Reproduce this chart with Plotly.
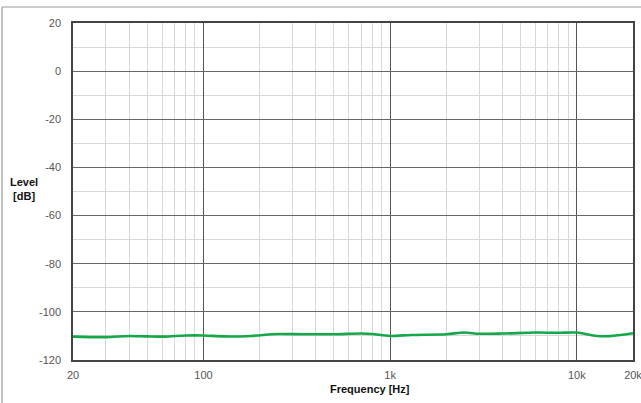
import plotly.graph_objects as go

freq_hz = [20, 30, 40, 50, 62, 80, 100, 130, 180, 250, 350, 500, 700, 800, 1000,
           1300, 2000, 2500, 3000, 4000, 6000, 8000, 10000, 12500, 15000, 20000]
level_db = [-110.3, -110.5, -110.0, -110.2, -110.3, -109.8, -109.8, -110.2, -110.0,
            -109.2, -109.3, -109.3, -109.0, -109.2, -110.0, -109.6, -109.3, -108.6,
            -109.1, -109.0, -108.6, -108.7, -108.6, -109.9, -110.1, -108.9]

x_tick_vals = [20, 100, 1000, 10000, 20000]
x_tick_text = ["20", "100", "1k", "10k", "20k"]
x_minor_vals = [30, 40, 50, 60, 70, 80, 90,
                200, 300, 400, 500, 600, 700, 800, 900,
                2000, 3000, 4000, 5000, 6000, 7000, 8000, 9000]
y_tick_vals = [-120, -100, -80, -60, -40, -20, 0, 20]
y_tick_text = ["-120", "-100", "-80", "-60", "-40", "-20", "0", "20"]

fig = go.Figure()
fig.add_trace(go.Scatter(
    x=freq_hz, y=level_db, mode="lines",
    line=dict(color="#15a84a", width=2.6, shape="spline", smoothing=0.8),
    hoverinfo="skip", showlegend=False,
))

font_family = "Liberation Sans, Arial, sans-serif"
fig.update_layout(
    width=641, height=403,
    margin=dict(l=73, r=8, t=23, b=43, autoexpand=False),
    paper_bgcolor="white", plot_bgcolor="white",
    font=dict(family=font_family, size=11, color="#555555"),
    xaxis=dict(
        type="log", range=[1.30103, 4.30103], automargin=False,
        tickmode="array", tickvals=x_tick_vals, ticktext=x_tick_text,
        showgrid=True, gridcolor="#555555", gridwidth=1,
        minor=dict(tickmode="array", tickvals=x_minor_vals, showgrid=True,
                   gridcolor="#d8d8d8", gridwidth=1),
        showline=True, linecolor="#444444", linewidth=1.5, mirror=True,
        ticks="", zeroline=False, ticklabelstandoff=4, ticklabeloverflow="allow",
        tickfont=dict(size=11, color="#555555"),
    ),
    yaxis=dict(
        range=[-120, 20], automargin=False,
        tickmode="array", tickvals=y_tick_vals, ticktext=y_tick_text,
        showgrid=True, gridcolor="#666666", gridwidth=1,
        minor=dict(dtick=10, tick0=-120, showgrid=True, gridcolor="#d8d8d8", gridwidth=1),
        showline=True, linecolor="#444444", linewidth=1.5, mirror=True,
        ticks="", zeroline=False, ticklabelstandoff=8, ticklabeloverflow="allow",
        tickfont=dict(size=11, color="#555555"),
    ),
    annotations=[
        dict(text="<b>Frequency [Hz]</b>", xref="paper", yref="paper",
             x=0.53, y=-0.062, xanchor="center", yanchor="top", showarrow=False,
             font=dict(size=11, color="#111111", family=font_family)),
        dict(text="<b>Level<br>[dB]</b>", xref="paper", yref="paper",
             x=-0.0875, y=0.507, xanchor="center", yanchor="middle", showarrow=False,
             align="center", font=dict(size=11, color="#111111", family=font_family)),
    ],
    shapes=[
        dict(type="line", xref="paper", yref="paper", x0=-0.1268, x1=1.02,
             y0=1.0475, y1=1.0475, line=dict(color="#999999", width=1.2)),
        dict(type="line", xref="paper", yref="paper", x0=-0.1268, x1=-0.1268,
             y0=1.0475, y1=-0.13, line=dict(color="#999999", width=1.2)),
    ],
)

fig.write_html("out.html", config={"displayModeBar": False},
               post_script="document.body.style.margin='0';document.body.style.overflow='hidden';")
